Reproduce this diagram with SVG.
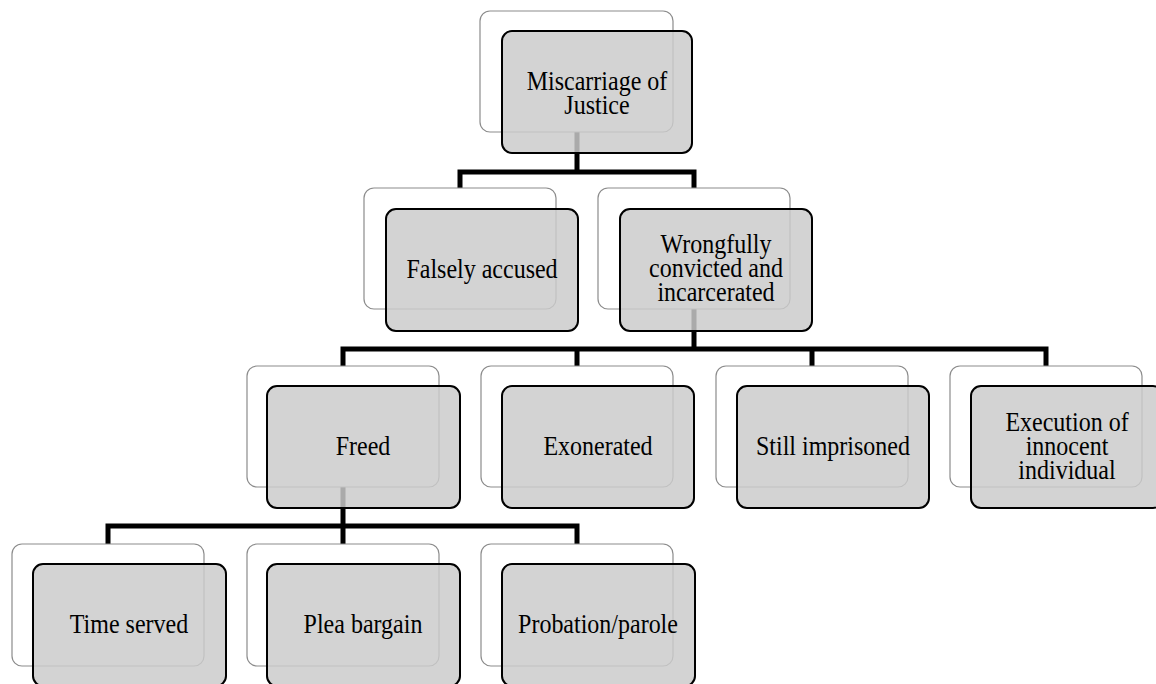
<svg xmlns="http://www.w3.org/2000/svg" width="1156" height="684" viewBox="0 0 1156 684">
<style>
.bk{fill:#fff;stroke:#8c8c8c;stroke-width:1.2}
.fr{fill:#cbcbcb;fill-opacity:0.84;stroke:#000;stroke-width:2}
.t{font-family:"Liberation Serif","Times New Roman",serif;font-size:24px;fill:#000;text-anchor:middle}
.c{fill:none;stroke:#000;stroke-width:5;stroke-linejoin:miter}
</style>
<rect width="1156" height="684" fill="#fff"/>
<g id="connectors">
<path class="c" d="M577,132 V172 M460,188 V172 H694 V188"/>
<path class="c" d="M694,309 V349 M343,366 V349 H1046 V366 M577,349 V366 M812,349 V366"/>
<path class="c" d="M343,487 V526 M108,544 V526 H577 V544 M343,526 V544"/>
</g>
<g id="n-miscarriage">
<rect class="bk" x="480" y="11" width="193" height="121" rx="10"/>
<rect class="fr" x="502" y="31" width="190" height="122" rx="10"/>
<text class="t" transform="matrix(1,0,0,1.13,597,90)">Miscarriage of</text>
<text class="t" transform="matrix(1,0,0,1.13,597,114)">Justice</text>
</g>
<g id="n-falsely">
<rect class="bk" x="364" y="188" width="192" height="121" rx="10"/>
<rect class="fr" x="386" y="209" width="192" height="122" rx="10"/>
<text class="t" transform="matrix(1,0,0,1.13,482,278)">Falsely accused</text>
</g>
<g id="n-wrongfully">
<rect class="bk" x="598" y="188" width="192" height="121" rx="10"/>
<rect class="fr" x="620" y="209" width="192" height="122" rx="10"/>
<text class="t" transform="matrix(1,0,0,1.13,716,253)">Wrongfully</text>
<text class="t" transform="matrix(1,0,0,1.13,716,277)">convicted and</text>
<text class="t" transform="matrix(1,0,0,1.13,716,301)">incarcerated</text>
</g>
<g id="n-freed">
<rect class="bk" x="247" y="366" width="192" height="121" rx="10"/>
<rect class="fr" x="267" y="386" width="193" height="122" rx="10"/>
<text class="t" transform="matrix(1,0,0,1.13,363,455)">Freed</text>
</g>
<g id="n-exonerated">
<rect class="bk" x="481" y="366" width="192" height="121" rx="10"/>
<rect class="fr" x="502" y="386" width="192" height="122" rx="10"/>
<text class="t" transform="matrix(1,0,0,1.13,598,455)">Exonerated</text>
</g>
<g id="n-still">
<rect class="bk" x="716" y="366" width="192" height="121" rx="10"/>
<rect class="fr" x="737" y="386" width="192" height="122" rx="10"/>
<text class="t" transform="matrix(1,0,0,1.13,833,455)">Still imprisoned</text>
</g>
<g id="n-execution">
<rect class="bk" x="950" y="366" width="192" height="121" rx="10"/>
<rect class="fr" x="971" y="386" width="192" height="122" rx="10"/>
<text class="t" transform="matrix(1,0,0,1.13,1067,431)">Execution of</text>
<text class="t" transform="matrix(1,0,0,1.13,1067,455)">innocent</text>
<text class="t" transform="matrix(1,0,0,1.13,1067,479)">individual</text>
</g>
<g id="n-time">
<rect class="bk" x="12" y="544" width="192" height="122" rx="10"/>
<rect class="fr" x="33" y="564" width="193" height="122" rx="10"/>
<text class="t" transform="matrix(1,0,0,1.13,129,633)">Time served</text>
</g>
<g id="n-plea">
<rect class="bk" x="247" y="544" width="192" height="122" rx="10"/>
<rect class="fr" x="267" y="564" width="193" height="122" rx="10"/>
<text class="t" transform="matrix(1,0,0,1.13,363,633)">Plea bargain</text>
</g>
<g id="n-probation">
<rect class="bk" x="481" y="544" width="192" height="122" rx="10"/>
<rect class="fr" x="502" y="564" width="193" height="122" rx="10"/>
<text class="t" transform="matrix(1,0,0,1.13,598,633)">Probation/parole</text>
</g>
</svg>
